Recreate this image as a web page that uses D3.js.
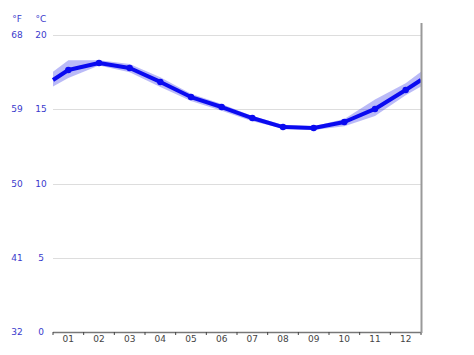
<!DOCTYPE html>
<html>
<head>
<meta charset="utf-8">
<script src="https://cdn.jsdelivr.net/npm/d3@7"></script>
<style>
  body { margin: 0; background: #fff; }
  text { font-family: "DejaVu Sans", sans-serif; }
  .grid line { stroke: #dddddd; stroke-width: 1px; shape-rendering: crispEdges; }
  .grid path { display: none; }
  .yLab text { fill: #3a3acc; font-size: 9px; }
  .xAxe text { fill: #444444; font-size: 9px; }
</style>
</head>
<body>
<svg width="474" height="355"></svg>
<script>
// data
const months = ["01", "02", "03", "04", "05", "06", "07", "08", "09", "10", "11", "12"];
const tempMean = [17.64, 18.11, 17.78, 16.84, 15.82, 15.15, 14.41, 13.80, 13.74, 14.14, 15.02, 16.30];
const tempMax  = [18.30, 18.30, 18.05, 17.15, 16.05, 15.35, 14.55, 13.95, 13.85, 14.35, 15.65, 16.75];
const tempMin  = [17.10, 17.95, 17.50, 16.50, 15.55, 14.90, 14.20, 13.70, 13.60, 13.85, 14.55, 15.95];
const ticksC = [0, 5, 10, 15, 20];
const ticksF = ["32", "41", "50", "59", "68"];

const svg = d3.select("svg");
const mLeft = 53, mRight = 421, mTop = 35, mBottom = 332;

const x = d3.scaleLinear().domain([0, 12]).range([mLeft, mRight]);
const y = d3.scaleLinear().domain([0, 20]).range([mBottom, mTop]);

// grid
svg.append("g")
  .attr("class", "grid")
  .attr("transform", "translate(" + mLeft + ",0)")
  .call(d3.axisLeft(y).tickValues(ticksC.slice(1)).tickSize(-(mRight - mLeft)).tickFormat(""));

// y labels, two columns
const yLab = svg.append("g").attr("class", "yLab");
yLab.selectAll("text.c").data(ticksC).enter().append("text")
  .attr("class", "c")
  .attr("x", 41).attr("y", d => y(d) + 3)
  .attr("text-anchor", "middle")
  .text(d => d);
yLab.selectAll("text.f").data(ticksF).enter().append("text")
  .attr("class", "f")
  .attr("x", 17).attr("y", (d, i) => y(ticksC[i]) + 3)
  .attr("text-anchor", "middle")
  .text(d => d);
yLab.append("text").attr("x", 17).attr("y", 22).attr("text-anchor", "middle").text("°F");
yLab.append("text").attr("x", 41).attr("y", 22).attr("text-anchor", "middle").text("°C");

// points with wrap-around edges (mid of dec / jan)
function withEdges(arr) {
  const edge = (arr[0] + arr[11]) / 2;
  const pts = [[0, edge]];
  arr.forEach((v, i) => pts.push([i + 0.5, v]));
  pts.push([12, edge]);
  return pts;
}
const pMean = withEdges(tempMean), pMax = withEdges(tempMax), pMin = withEdges(tempMin);

// band
const area = d3.area()
  .x(d => x(d[0]))
  .y0((d, i) => y(pMin[i][1]))
  .y1(d => y(d[1]));
svg.append("path")
  .datum(pMax)
  .attr("d", area)
  .style("fill", "rgba(40, 40, 230, 0.32)");

// line
const line = d3.line().x(d => x(d[0])).y(d => y(d[1]));
svg.append("path")
  .datum(pMean)
  .attr("d", line)
  .style("fill", "none")
  .style("stroke", "#0a0af0")
  .style("stroke-width", 4)
  .style("stroke-linejoin", "round");

svg.selectAll("circle.pt").data(tempMean).enter().append("circle")
  .attr("class", "pt")
  .attr("cx", (d, i) => x(i + 0.5))
  .attr("cy", d => y(d))
  .attr("r", 3.2)
  .style("fill", "#0a0af0");

// x axis
const xAxe = svg.append("g").attr("class", "xAxe");
xAxe.append("line")
  .attr("x1", mLeft).attr("x2", mRight + 1)
  .attr("y1", mBottom + 0.5).attr("y2", mBottom + 0.5)
  .style("stroke", "#777").style("stroke-width", 1.5);
xAxe.selectAll("line.tk").data(d3.range(13)).enter().append("line")
  .attr("class", "tk")
  .attr("x1", d => x(d)).attr("x2", d => x(d))
  .attr("y1", mBottom).attr("y2", mBottom + 3)
  .style("stroke", "#444").style("stroke-width", 1);
xAxe.selectAll("text").data(months).enter().append("text")
  .attr("x", (d, i) => x(i + 0.5))
  .attr("y", mBottom + 10)
  .attr("text-anchor", "middle")
  .text(d => d);

// right border
svg.append("line")
  .attr("x1", mRight + 0.5).attr("x2", mRight + 0.5)
  .attr("y1", 23).attr("y2", mBottom + 1)
  .style("stroke", "#999").style("stroke-width", 2);
</script>
</body>
</html>
